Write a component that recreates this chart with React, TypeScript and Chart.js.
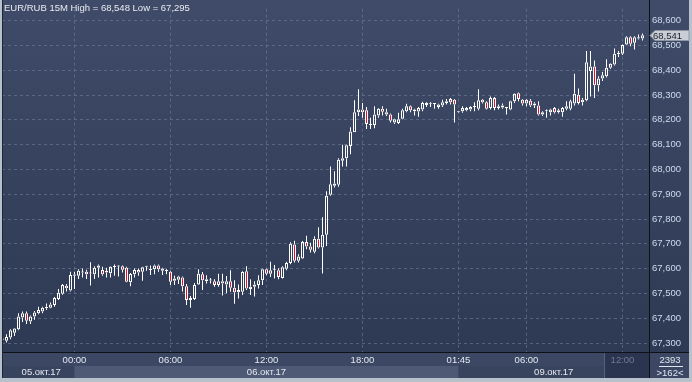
import React, { useEffect, useRef } from 'react';
import { Chart, registerables } from 'chart.js';

Chart.register(...registerables);

// ---- Data (EUR/RUB, 15 minute candles) ----
const opens = [
  67.313, 67.309, 67.322, 67.341, 67.355, 67.403, 67.420, 67.387, 67.407, 67.420,
  67.427, 67.440, 67.442, 67.453, 67.477, 67.499, 67.531, 67.512, 67.571, 67.571,
  67.584, 67.587, 67.580, 67.577, 67.604, 67.594, 67.584, 67.581, 67.607, 67.609,
  67.610, 67.604, 67.545, 67.577, 67.594, 67.587, 67.608, 67.594, 67.597, 67.613,
  67.591, 67.592, 67.587, 67.551, 67.555, 67.564, 67.529, 67.473, 67.477, 67.536,
  67.577, 67.557, 67.553, 67.549, 67.534, 67.549, 67.536, 67.549, 67.523, 67.505,
  67.507, 67.589, 67.518, 67.527, 67.534, 67.553, 67.597, 67.579, 67.593, 67.593,
  67.562, 67.599, 67.623, 67.697, 67.632, 67.641, 67.707, 67.689, 67.668, 67.720,
  67.685, 67.737, 67.898, 67.934, 67.938, 68.035, 68.045, 68.095, 68.150, 68.231,
  68.242, 68.239, 68.179, 68.179, 68.218, 68.245, 68.231, 68.222, 68.189, 68.187,
  68.205, 68.235, 68.255, 68.235, 68.234, 68.242, 68.260, 68.265, 68.265, 68.252,
  68.258, 68.268, 68.284, 68.281, 68.231, 68.235, 68.239, 68.242, 68.252, 68.245,
  68.281, 68.271, 68.248, 68.288, 68.248, 68.258, 68.249, 68.242, 68.275, 68.307,
  68.281, 68.266, 68.277, 68.266, 68.258, 68.222, 68.235, 68.231, 68.248, 68.231,
  68.231, 68.245, 68.245, 68.266, 68.301, 68.271, 68.279, 68.397, 68.415, 68.340,
  68.367, 68.376, 68.410, 68.423, 68.465, 68.467, 68.504, 68.533, 68.511, 68.528,
  68.528,
];
const highs = [
  67.322, 67.335, 67.355, 67.361, 67.420, 67.427, 67.427, 67.411, 67.429, 67.446,
  67.446, 67.459, 67.463, 67.486, 67.518, 67.538, 67.538, 67.587, 67.587, 67.597,
  67.600, 67.595, 67.626, 67.610, 67.617, 67.608, 67.604, 67.610, 67.617, 67.613,
  67.613, 67.608, 67.582, 67.600, 67.600, 67.608, 67.610, 67.613, 67.617, 67.617,
  67.604, 67.597, 67.591, 67.571, 67.571, 67.568, 67.538, 67.490, 67.542, 67.597,
  67.586, 67.573, 67.562, 67.557, 67.579, 67.579, 67.570, 67.593, 67.553, 67.536,
  67.589, 67.610, 67.557, 67.549, 67.573, 67.599, 67.599, 67.628, 67.615, 67.602,
  67.610, 67.628, 67.706, 67.712, 67.658, 67.711, 67.733, 67.704, 67.731, 67.767,
  67.807, 67.912, 68.012, 67.993, 68.045, 68.100, 68.100, 68.170, 68.279, 68.323,
  68.268, 68.252, 68.209, 68.255, 68.248, 68.255, 68.245, 68.226, 68.205, 68.229,
  68.245, 68.265, 68.258, 68.245, 68.252, 68.273, 68.271, 68.271, 68.266, 68.265,
  68.281, 68.284, 68.288, 68.284, 68.236, 68.255, 68.252, 68.255, 68.271, 68.323,
  68.284, 68.275, 68.294, 68.292, 68.262, 68.266, 68.250, 68.277, 68.307, 68.310,
  68.284, 68.284, 68.284, 68.271, 68.275, 68.235, 68.242, 68.245, 68.252, 68.245,
  68.252, 68.275, 68.281, 68.386, 68.327, 68.288, 68.478, 68.478, 68.439, 68.376,
  68.393, 68.445, 68.428, 68.488, 68.478, 68.504, 68.537, 68.537, 68.537, 68.544,
  68.548,
];
const lows = [
  67.296, 67.302, 67.315, 67.328, 67.351, 67.385, 67.377, 67.377, 67.394, 67.416,
  67.420, 67.433, 67.440, 67.446, 67.473, 67.495, 67.508, 67.508, 67.518, 67.558,
  67.564, 67.558, 67.532, 67.558, 67.564, 67.571, 67.564, 67.564, 67.571, 67.568,
  67.584, 67.545, 67.529, 67.564, 67.571, 67.551, 67.591, 67.574, 67.577, 67.587,
  67.574, 67.577, 67.534, 67.534, 67.538, 67.508, 67.453, 67.442, 67.473, 67.534,
  67.514, 67.540, 67.540, 67.527, 67.527, 67.492, 67.501, 67.507, 67.458, 67.479,
  67.494, 67.514, 67.494, 67.488, 67.520, 67.534, 67.573, 67.566, 67.560, 67.557,
  67.560, 67.593, 67.618, 67.625, 67.625, 67.639, 67.678, 67.665, 67.662, 67.681,
  67.580, 67.691, 67.894, 67.927, 67.930, 68.012, 68.012, 68.061, 68.150, 68.216,
  68.209, 68.163, 68.163, 68.166, 68.209, 68.218, 68.216, 68.189, 68.183, 68.183,
  68.203, 68.231, 68.231, 68.218, 68.213, 68.235, 68.252, 68.252, 68.245, 68.245,
  68.252, 68.262, 68.262, 68.189, 68.229, 68.229, 68.235, 68.235, 68.235, 68.239,
  68.266, 68.242, 68.242, 68.239, 68.242, 68.245, 68.222, 68.239, 68.268, 68.275,
  68.258, 68.255, 68.252, 68.248, 68.218, 68.216, 68.209, 68.218, 68.226, 68.226,
  68.213, 68.239, 68.239, 68.258, 68.262, 68.258, 68.275, 68.294, 68.288, 68.314,
  68.357, 68.371, 68.406, 68.419, 68.454, 68.462, 68.502, 68.497, 68.484, 68.524,
  68.520,
];
const closes = [
  67.318, 67.324, 67.351, 67.358, 67.407, 67.420, 67.390, 67.407, 67.423, 67.433,
  67.442, 67.446, 67.455, 67.482, 67.503, 67.534, 67.521, 67.574, 67.576, 67.591,
  67.585, 67.577, 67.580, 67.604, 67.613, 67.577, 67.590, 67.608, 67.608, 67.609,
  67.595, 67.547, 67.578, 67.594, 67.584, 67.606, 67.608, 67.599, 67.613, 67.597,
  67.600, 67.590, 67.547, 67.560, 67.568, 67.529, 67.473, 67.482, 67.534, 67.579,
  67.553, 67.549, 67.552, 67.534, 67.549, 67.540, 67.549, 67.523, 67.505, 67.514,
  67.586, 67.520, 67.527, 67.536, 67.553, 67.597, 67.579, 67.593, 67.594, 67.566,
  67.606, 67.623, 67.700, 67.632, 67.649, 67.707, 67.689, 67.676, 67.720, 67.685,
  67.737, 67.894, 67.940, 67.943, 68.039, 68.045, 68.098, 68.153, 68.231, 68.242,
  68.231, 68.183, 68.180, 68.222, 68.245, 68.233, 68.222, 68.196, 68.203, 68.203,
  68.239, 68.255, 68.239, 68.242, 68.248, 68.268, 68.268, 68.266, 68.264, 68.262,
  68.271, 68.275, 68.271, 68.262, 68.235, 68.248, 68.248, 68.252, 68.253, 68.279,
  68.271, 68.245, 68.288, 68.248, 68.255, 68.250, 68.248, 68.275, 68.305, 68.284,
  68.266, 68.281, 68.258, 68.258, 68.222, 68.231, 68.236, 68.242, 68.231, 68.239,
  68.248, 68.255, 68.275, 68.305, 68.268, 68.281, 68.432, 68.415, 68.340, 68.367,
  68.380, 68.410, 68.426, 68.467, 68.471, 68.502, 68.533, 68.507, 68.533, 68.533,
  68.541,
];

const timeTickIndex = [18, 42, 66, 90, 114, 131, 155];
const timeTickLabels = ['00:00', '06:00', '12:00', '18:00', '01:45', '06:00', '12:00'];
const dateLabels = ['05.окт.17', '06.окт.17', '09.окт.17'];
const dateStarts = [-0.125, 18, 114];
const priceTicks = [67.3, 67.4, 67.5, 67.6, 67.7, 67.8, 67.9, 68.0, 68.1, 68.2, 68.3, 68.4, 68.5, 68.6];
const instrument = 'EUR/RUB 15M';
const highValue = 68.548;
const lowValue = 67.295;
const lastPrice = 68.541;
const totalBars = '2393';
const visibleBars = '>162<';
const futureStart = 150.25;

const fmt = (v: number) => v.toFixed(3).replace('.', ',');
const FONT = '"Liberation Sans", Arial, sans-serif';
const RED = '#e3102c';

const framePlugin = {
  id: 'framePlugin',
  beforeDraw(chart: any) {
    const { ctx, chartArea: a, width: W, height: H } = chart;
    const xs = chart.scales.x;
    const right = W - 3;
    const bottom = H - 4;
    ctx.save();
    ctx.fillStyle = '#b7c1cc';
    ctx.fillRect(0, 0, W, H);
    const g = ctx.createLinearGradient(0, 0, 0, a.bottom);
    g.addColorStop(0, '#3f4b68');
    g.addColorStop(1, '#2e3953');
    ctx.fillStyle = g;
    ctx.fillRect(a.left, 0, right - a.left, a.bottom);
    // x axis panel
    ctx.fillStyle = '#3c4863';
    ctx.fillRect(a.left, a.bottom, right - a.left, bottom - a.bottom);
    // date bands
    const rowTop = 366;
    for (let i = 0; i < dateLabels.length; i++) {
      const x0 = Math.max(a.left, xs.getPixelForValue(dateStarts[i]));
      const x1 = i + 1 < dateStarts.length ? xs.getPixelForValue(dateStarts[i + 1]) : a.right;
      ctx.fillStyle = i === 1 ? '#4e5a75' : '#38435e';
      ctx.fillRect(x0, rowTop, x1 - x0, bottom - rowTop);
      ctx.fillStyle = '#e4e9f1';
      ctx.font = '9.5px ' + FONT;
      ctx.textAlign = 'center';
      ctx.textBaseline = 'middle';
      ctx.fillText(dateLabels[i], (x0 + x1) / 2 + (i === 0 ? 3 : 0), rowTop + 6.5);
    }
    // future box
    const fx = Math.round(xs.getPixelForValue(futureStart));
    ctx.fillStyle = '#2b3550';
    ctx.fillRect(fx, a.bottom, a.right - fx, bottom - a.bottom);
    ctx.fillStyle = '#56627d';
    ctx.fillRect(fx, a.bottom, 1, bottom - a.bottom);
    ctx.restore();
  },
  afterDraw(chart: any) {
    const { ctx, chartArea: a, width: W, height: H } = chart;
    const ys = chart.scales.y;
    ctx.save();
    // separators
    ctx.fillStyle = '#0e1118';
    ctx.fillRect(a.right, 0, 1, H - 4);
    ctx.fillRect(a.left, a.bottom, W - 3 - a.left, 1);
    ctx.fillStyle = '#1f2533';
    ctx.fillRect(2, 0, 1, H - 4);
    // title
    ctx.font = '9.5px ' + FONT;
    ctx.textAlign = 'left';
    ctx.textBaseline = 'middle';
    ctx.fillStyle = '#e8ecf2';
    ctx.fillText(`${instrument} High = ${fmt(highValue)} Low = ${fmt(lowValue)}`, 4, 8);
    // last price label
    const py = Math.round(ys.getPixelForValue(lastPrice)) + 0.5;
    ctx.beginPath();
    ctx.moveTo(a.right + 1, py);
    ctx.lineTo(a.right + 6, py - 5);
    ctx.lineTo(W - 3, py - 5);
    ctx.lineTo(W - 3, py + 5);
    ctx.lineTo(a.right + 6, py + 5);
    ctx.closePath();
    ctx.fillStyle = '#c9ced6';
    ctx.fill();
    ctx.strokeStyle = '#8e96a4';
    ctx.lineWidth = 1;
    ctx.stroke();
    ctx.fillStyle = '#1c1f26';
    ctx.fillText(fmt(lastPrice), a.right + 4, py + 0.5);
    // bar counters
    const cx = (a.right + W - 3) / 2 + 1;
    ctx.textAlign = 'center';
    ctx.fillStyle = '#dfe6f0';
    ctx.fillText(totalBars, cx, 360);
    ctx.fillRect(cx - 11, 366, 24, 1);
    ctx.fillText(visibleBars, cx, 373);
    ctx.restore();
  },
};

const idx = opens.map((_, i) => i);
const bodyData = idx.map((i) => ({ x: i, y: [Math.min(opens[i], closes[i]), Math.max(opens[i], closes[i])] }));
const upperWickData = idx.map((i) => ({ x: i, y: [Math.max(opens[i], closes[i]), highs[i]] }));
const lowerWickData = idx.map((i) => ({ x: i, y: [lows[i], Math.min(opens[i], closes[i])] }));
const bodyColors = idx.map((i) => (closes[i] < opens[i] ? RED : 'rgba(0,0,0,0)'));

export default function App() {
  const ref = useRef<HTMLCanvasElement>(null);
  useEffect(() => {
    document.body.style.margin = '0';
    const gridColor = 'rgba(112,126,155,0.6)';
    const chart = new Chart(ref.current as HTMLCanvasElement, {
      type: 'bar',
      data: {
        datasets: [
          {
            data: bodyData as any,
            backgroundColor: bodyColors,
            borderColor: '#ffffff',
            borderWidth: 1,
            borderSkipped: false,
            barThickness: 3,
            minBarLength: 1,
          },
          { data: upperWickData as any, backgroundColor: '#ffffff', borderWidth: 0, barThickness: 1 },
          { data: lowerWickData as any, backgroundColor: '#ffffff', borderWidth: 0, barThickness: 1 },
        ],
      },
      options: {
        responsive: false,
        animation: false,
        devicePixelRatio: 1,
        layout: { padding: { left: 2, right: 3, top: 0, bottom: 4 } },
        datasets: { bar: { grouped: false, inflateAmount: 0 } as any },
        plugins: { legend: { display: false }, tooltip: { enabled: false }, title: { display: false } },
        scales: {
          x: {
            type: 'linear',
            min: -0.125,
            max: 161.625,
            offset: false,
            afterBuildTicks: (s: any) => {
              s.ticks = timeTickIndex.map((v) => ({ value: v }));
            },
            afterFit: (s: any) => {
              s.height = 26;
            },
            ticks: {
              autoSkip: false,
              maxRotation: 0,
              padding: 3,
              font: { family: FONT, size: 9.5 },
              color: (c: any) => (c.tick && c.tick.value === 155 ? '#6f7a92' : '#e4e9f1'),
              callback: (v: any) => {
                const k = timeTickIndex.indexOf(Number(v));
                return k >= 0 ? timeTickLabels[k] : '';
              },
            },
            grid: { color: gridColor, drawTicks: false, offset: false, lineWidth: 1 },
            border: { display: false, dash: [3, 3] },
          },
          y: {
            position: 'right',
            min: 67.2637,
            max: 68.6484,
            afterBuildTicks: (s: any) => {
              s.ticks = priceTicks.map((v) => ({ value: v }));
            },
            afterFit: (s: any) => {
              s.width = 40;
            },
            ticks: {
              padding: 3,
              font: { family: FONT, size: 9.5 },
              color: '#cfdbee',
              callback: (v: any) => fmt(Number(v)),
            },
            grid: { color: gridColor, drawTicks: false, lineWidth: 1 },
            border: { display: false, dash: [3, 3] },
          },
        },
      } as any,
      plugins: [framePlugin],
    });
    return () => chart.destroy();
  }, []);
  return (
    <div style={{ position: 'absolute', left: 0, top: 0, width: 692, height: 382 }}>
      <canvas ref={ref} width={692} height={382} style={{ display: 'block', width: 692, height: 382 }} />
    </div>
  );
}
